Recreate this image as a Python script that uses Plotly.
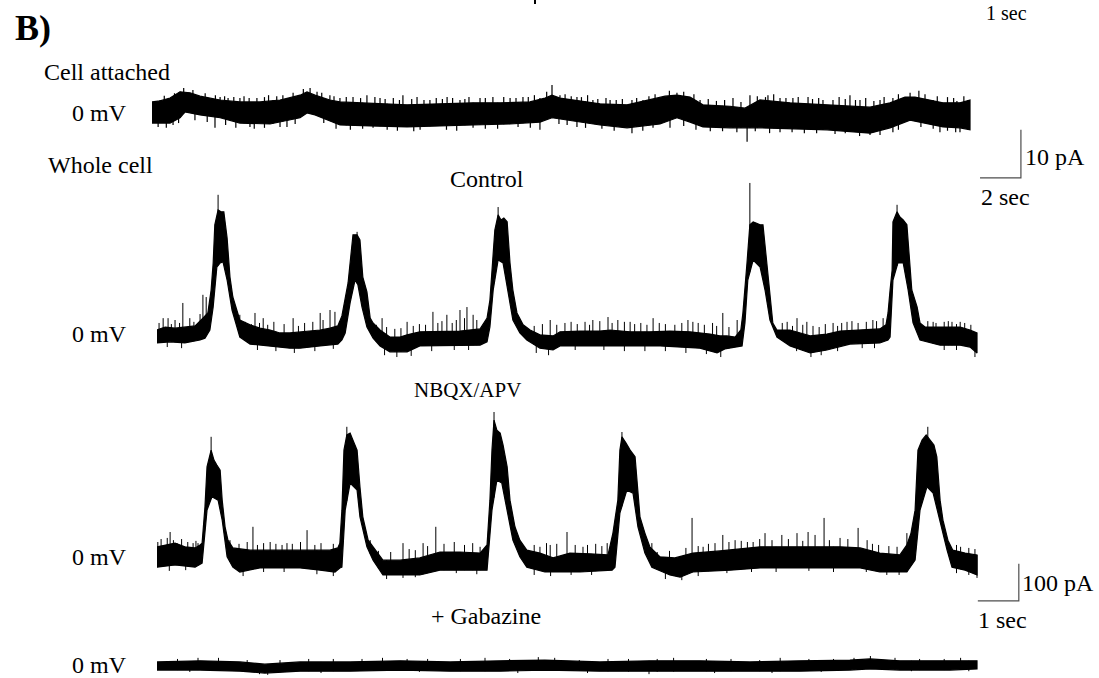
import numpy as np
import plotly.graph_objects as go

# ---------------- DATA (seconds, pA) ----------------
# Cell attached (0 mV) – envelope of the noisy trace
ca_up_t = [0.00, 0.39, 0.88, 1.37, 1.86, 2.35, 3.33, 4.30, 5.28, 6.26, 7.24, 7.58, 7.97, 8.70, 9.19, 10.66, 12.47,
           14.08, 15.70, 17.02, 18.48, 19.22, 19.56, 19.95, 21.42, 21.91, 23.23, 24.35, 25.09, 25.67, 26.31, 26.94,
           28.26, 29.00, 29.73, 31.20, 33.01, 34.13, 35.11, 36.09, 36.82, 37.31, 38.04, 38.68, 39.51, 40.00]
ca_up = [2.1, 2.3, 2.9, 4.2, 4.0, 3.3, 2.5, 2.1, 2.1, 2.5, 3.5, 4.2, 3.5, 2.5, 2.1, 1.9, 1.5,
         1.7, 1.9, 1.9, 2.1, 2.9, 3.5, 2.9, 2.1, 1.7, 1.5, 2.5, 3.3, 3.5, 3.1, 1.5,
         1.2, 0.8, 2.5, 1.9, 1.5, 1.2, 1.0, 1.9, 3.1, 3.1, 2.5, 1.9, 1.9, 2.5]
ca_lo_t = [0.00, 0.88, 1.37, 1.61, 2.35, 3.33, 4.30, 5.77, 7.24, 7.58, 7.97, 9.19, 10.66, 12.47, 14.08, 15.70,
           17.51, 18.97, 19.56, 20.44, 21.91, 23.23, 24.84, 25.67, 26.31, 26.94, 28.26, 29.73, 31.20, 33.01,
           35.11, 36.09, 37.07, 38.04, 38.68, 39.51, 40.00]
ca_lo = [-2.3, -2.3, -1.2, 0.0, -0.6, -1.2, -2.3, -2.5, -1.2, -0.2, -0.6, -2.7, -2.9, -3.1, -2.9, -2.7,
         -2.5, -2.1, -1.2, -1.7, -2.7, -3.3, -2.5, -1.2, -2.1, -3.1, -3.3, -3.3, -3.5, -3.7,
         -4.4, -3.3, -1.7, -2.5, -3.1, -3.3, -3.7]
ca_spk_up_t = [0.39, 0.6, 0.98, 1.1, 1.37, 1.55, 1.71, 2.0, 2.25, 2.6, 2.93, 3.1, 3.33, 3.55, 3.72, 4.0, 4.30,
               4.5, 4.75, 5.13, 5.5, 5.7, 5.92, 6.1, 6.4, 6.65, 6.9, 7.24, 7.4, 7.73, 8.07, 8.3, 8.70, 8.9,
               9.19, 9.5, 9.83, 10.2, 10.51, 10.9, 11.15, 11.4, 11.8, 12.1, 12.27, 12.7, 12.96, 13.3, 13.59,
               13.9, 14.2, 14.43, 14.7, 15.06, 15.3, 15.5, 16.04, 16.3, 16.67, 17.2, 17.51, 17.8, 18.14, 18.4,
               18.7, 18.97, 19.3, 19.56, 19.95, 20.2, 20.5, 20.78, 21.0, 21.3, 21.56, 21.8, 22.2, 22.40, 22.7,
               23.0, 23.47, 23.7, 24.01, 24.3, 24.6, 24.84, 25.3, 25.67, 26.0, 26.5, 26.80, 27.2, 27.6, 28.0,
               28.41, 28.8, 29.24, 29.6, 30.0, 30.12, 30.4, 30.71, 31.0, 31.34, 31.6, 32.08, 32.3, 32.6, 32.81,
               33.3, 33.6, 33.9, 34.13, 34.4, 34.62, 34.9, 35.3, 35.60, 35.8, 36.23, 36.5, 37.07, 37.5, 37.8,
               38.19, 38.4, 38.9, 39.2, 39.36, 39.7, 39.95]
ca_spk_up = [2.5, 3.4, 2.9, 3.9, 4.2, 5.0, 4.0, 4.6, 3.1, 3.9, 2.9, 3.5, 3.1, 3.3, 2.9, 3.1, 2.9,
             3.3, 2.9, 2.9, 3.1, 3.5, 2.5, 3.3, 3.5, 2.9, 4.0, 3.5, 4.8, 5.0, 4.2, 4.0, 3.5, 3.3,
             2.9, 3.1, 3.1, 2.9, 3.5, 3.1, 2.9, 2.7, 2.9, 2.5, 3.5, 2.7, 3.1, 2.5, 2.5,
             2.9, 2.7, 3.1, 2.9, 2.5, 2.7, 3.1, 2.9, 2.9, 3.1, 3.1, 2.9, 2.9, 3.1, 3.1,
             3.5, 2.9, 4.2, 5.6, 3.5, 3.7, 3.3, 3.1, 3.1, 3.5, 2.5, 2.7, 2.9, 2.5, 2.5,
             2.7, 2.5, 2.9, 2.5, 3.3, 3.7, 2.5, 4.4, 4.0, 4.2, 3.7, 2.5, 2.7, 2.3, 2.5,
             2.9, 2.1, 3.5, 3.3, 3.1, 3.5, 3.7, 2.9, 2.9, 2.9, 3.1, 3.1, 2.7, 2.9, 2.5,
             2.5, 3.1, 2.7, 3.5, 2.5, 2.5, 2.9, 2.3, 2.5, 3.1, 2.9, 3.7, 4.0, 4.4, 3.7,
             2.5, 3.3, 3.1, 2.9, 2.3, 3.3, 2.5]
ca_spk_dn_t = [0.3, 0.7, 1.03, 1.3, 2.1, 2.7, 3.08, 3.6, 4.1, 4.79, 5.0, 5.5, 6.26, 6.6, 7.0, 8.4, 9.0, 9.7,
               10.3, 10.81, 11.5, 12.0, 12.8, 13.11, 14.4, 14.9, 15.70, 16.3, 16.9, 17.9, 18.5, 18.97, 19.9,
               20.3, 20.78, 21.2, 22.0, 22.6, 23.47, 24.0, 24.5, 25.33, 26.0, 26.6, 27.3, 27.9, 28.6, 29.10,
               29.5, 30.2, 30.71, 31.3, 31.9, 32.5, 33.4, 33.9, 34.6, 35.11, 35.6, 36.23, 36.5, 37.6, 38.2,
               38.53, 38.9, 39.3, 39.51, 39.90]
ca_spk_dn = [-3.1, -3.3, -2.7, -2.3, -1.7, -2.1, -3.3, -2.7, -3.3, -3.1, -3.5, -3.3, -3.1, -3.1, -2.5, -2.3,
             -3.5, -3.7, -3.5, -3.3, -3.7, -3.9, -4.0, -3.7, -3.7, -3.9, -3.3, -3.5, -3.5, -3.1, -3.3, -3.7,
             -2.5, -2.7, -3.1, -3.3, -3.5, -3.9, -4.4, -3.9, -3.3, -3.3, -2.9, -3.7, -4.0, -4.0, -4.2, -6.2,
             -4.0, -4.4, -4.2, -4.2, -4.4, -4.4, -4.6, -4.4, -5.0, -4.8, -4.8, -4.2, -3.7, -3.1, -3.5,
             -4.2, -3.9, -4.2, -4.2, -3.7]

# Whole cell – Control
ctl_up_t = [0.00, 0.20, 0.44, 0.68, 0.93, 1.12, 1.24, 1.32, 1.37, 1.41, 1.49, 1.56, 1.63, 1.71, 1.78, 1.85, 1.95,
            2.02, 2.27, 2.51, 2.76, 3.00, 3.24, 3.49, 3.73, 3.98, 4.22, 4.41, 4.51, 4.59, 4.66, 4.73, 4.78, 4.88,
            4.95, 5.02, 5.12, 5.20, 5.27, 5.44, 5.68, 5.93, 6.10, 6.41, 6.90, 7.39, 7.88, 8.05, 8.12, 8.17, 8.24,
            8.32, 8.39, 8.46, 8.54, 8.61, 8.68, 8.78, 8.93, 9.10, 9.34, 9.66, 9.83, 10.32, 10.80, 11.05, 11.54,
            12.02, 12.51, 13.00, 13.49, 13.73, 13.90, 14.10, 14.24, 14.29, 14.34, 14.39, 14.46, 14.54, 14.61,
            14.71, 14.78, 14.88, 14.95, 15.02, 15.12, 15.44, 15.93, 16.34, 16.66, 17.15, 17.63, 17.78, 17.83,
            17.88, 17.93, 17.95, 18.05, 18.12, 18.20, 18.29, 18.34, 18.41, 18.54, 18.61, 18.73, 19.10, 19.59,
            19.83, 20.00]
ctl_up = [27, 35, 32, 35, 38, 59, 73, 135, 208, 311, 351, 346, 346, 275, 170, 116, 76,
          54, 41, 32, 27, 19, 19, 22, 24, 27, 32, 38, 65, 108, 154, 230, 284, 284,
          270, 170, 130, 59, 46, 27, 8, 8, 14, 22, 24, 24, 30, 59, 108, 181, 297,
          338, 324, 329, 319, 208, 135, 73, 41, 27, 14, 11, 22, 24, 24, 27, 22,
          22, 24, 22, 16, 11, 11, 8, 27, 73, 135, 208, 311, 319, 316,
          311, 311, 208, 135, 46, 27, 27, 11, 16, 24, 27, 30, 41, 73,
          135, 189, 319, 346, 332, 324, 311, 243, 135, 89, 46, 35, 35, 35,
          27, 19]
ctl_lo_t = [0.00, 0.32, 0.68, 1.05, 1.17, 1.29, 1.37, 1.46, 1.54, 1.61, 1.71, 1.83, 1.95, 2.02, 2.27, 2.76, 3.24,
            3.49, 3.98, 4.41, 4.51, 4.59, 4.71, 4.83, 4.90, 5.00, 5.12, 5.27, 5.44, 5.68, 6.10, 6.41, 7.15, 7.88,
            8.05, 8.12, 8.20, 8.32, 8.44, 8.56, 8.68, 8.85, 9.02, 9.34, 9.66, 9.83, 10.56, 11.29, 12.27, 13.24,
            13.66, 13.85, 14.27, 14.34, 14.41, 14.54, 14.71, 14.83, 14.95, 15.12, 15.44, 15.93, 16.34, 16.90,
            17.63, 17.83, 17.88, 17.95, 18.07, 18.20, 18.32, 18.44, 18.61, 19.10, 19.59, 19.83, 20.00]
ctl_lo = [-8, -5, -8, 0, 5, 27, 89, 197, 208, 211, 162, 81, 35, 8, -11, -16, -22,
          -22, -16, -11, 0, 19, 100, 162, 149, 89, 35, 5, -16, -32, -32, -16, -14, -14,
          -5, 35, 135, 216, 208, 135, 54, 19, 0, -22, -27, -16, -14, -16, -16, -22,
          -35, -24, -16, 46, 162, 216, 197, 135, 54, 8, -16, -35, -27, -11,
          -8, 0, 8, 162, 208, 208, 135, 46, 0, -14, -14, -19, -35]
ctl_spk_t = [0.05, 0.15, 0.27, 0.35, 0.44, 0.55, 0.63, 0.80, 0.90, 1.05, 1.12, 1.20, 2.02, 2.15, 2.30, 2.39,
             2.50, 2.59, 2.70, 2.85, 3.10, 3.32, 3.45, 3.60, 3.80, 3.98, 4.05, 4.22, 4.34, 4.45, 5.35, 5.49,
             5.60, 5.80, 5.95, 6.10, 6.25, 6.40, 6.55, 6.73, 6.85, 6.95, 7.07, 7.20, 7.30, 7.39, 7.50, 7.56,
             7.71, 7.80, 9.20, 9.40, 9.59, 9.75, 9.95, 10.10, 10.25, 10.44, 10.55, 10.63, 10.80, 11.00, 11.10,
             11.24, 11.40, 11.54, 11.65, 11.80, 11.95, 12.10, 12.25, 12.40, 12.63, 12.80, 12.95, 13.07, 13.20,
             13.35, 13.55, 13.65, 13.80, 13.95, 14.15, 15.25, 15.37, 15.50, 15.61, 15.75, 15.85, 16.00, 16.15,
             16.30, 16.49, 16.60, 16.70, 16.83, 16.95, 17.10, 17.30, 17.46, 17.55, 17.71, 18.80, 18.93, 19.00,
             19.20, 19.30, 19.39, 19.50, 19.59, 19.70, 19.85,
             1.49, 4.88, 8.32, 14.46, 18.05]
ctl_spk = [46, 59, 59, 43, 54, 46, 100, 59, 49, 70, 122, 116, 68, 49, 43, 73,
           46, 59, 41, 49, 43, 59, 38, 46, 49, 73, 54, 81, 76, 51, 41, 59,
           35, 30, 32, 49, 38, 43, 41, 76, 46, 51, 68, 46, 54, 81, 59, 89,
           68, 54, 38, 43, 54, 41, 46, 49, 43, 49, 41, 54, 51, 62, 46,
           54, 49, 49, 43, 46, 41, 59, 46, 43, 41, 46, 54, 49, 46,
           41, 46, 38, 73, 35, 54, 46, 49, 38, 59, 41, 49, 38, 35,
           43, 46, 38, 46, 49, 51, 46, 49, 54, 51, 59, 51, 49, 46,
           49, 51, 49, 43, 49, 46, 41,
           392, 292, 359, 424, 365]
ctl_dn_t = [0.25, 0.60, 2.45, 2.90, 3.35, 3.85, 4.30, 5.55, 5.85, 6.20, 6.70, 7.25, 7.60, 9.25, 9.55, 10.20,
            10.90, 11.40, 11.90, 12.40, 12.90, 13.40, 13.75, 15.60, 15.95, 16.20, 16.60, 17.20, 17.50, 19.20,
            19.50, 19.95]
ctl_dn = [-19, -22, -27, -30, -35, -30, -24, -41, -46, -43, -30, -27, -27, -35, -41, -27,
          -27, -30, -30, -30, -35, -38, -46, -30, -46, -41, -30, -22, -22, -27,
          -27, -46]

# Whole cell – NBQX/APV
nbq_up_t = [0.00, 0.20, 0.44, 0.68, 0.93, 1.05, 1.10, 1.17, 1.22, 1.32, 1.39, 1.46, 1.54, 1.59, 1.66, 1.73, 1.85,
            2.27, 2.76, 3.24, 3.73, 4.22, 4.41, 4.46, 4.51, 4.56, 4.63, 4.71, 4.78, 4.88, 4.95, 5.02, 5.15, 5.32,
            5.51, 5.93, 6.41, 6.90, 7.39, 7.88, 8.05, 8.12, 8.17, 8.22, 8.29, 8.37, 8.44, 8.54, 8.61, 8.73, 8.85,
            9.02, 9.34, 9.66, 10.07, 10.56, 11.00, 11.12, 11.24, 11.29, 11.34, 11.44, 11.54, 11.66, 11.71, 11.78,
            11.90, 12.02, 12.27, 12.63, 13.07, 13.73, 14.71, 15.68, 16.66, 17.15, 17.63, 18.12, 18.29, 18.39,
            18.49, 18.56, 18.66, 18.76, 18.85, 18.95, 19.02, 19.10, 19.17, 19.29, 19.41, 19.71, 20.00]
nbq_up = [41, 46, 51, 41, 38, 46, 51, 149, 257, 302, 275, 262, 248, 167, 95, 59, 38,
          32, 32, 30, 32, 32, 38, 51, 140, 302, 343, 348, 329, 302, 203, 122, 59, 32,
          5, 5, 11, 27, 27, 24, 46, 167, 302, 383, 356, 348, 316, 257, 167, 95, 59,
          32, 24, 11, 24, 22, 19, 78, 167, 302, 338, 321, 302, 284, 213, 122,
          78, 41, 14, 11, 24, 30, 41, 41, 41, 38, 24, 19, 46, 78,
          140, 302, 329, 343, 329, 316, 284, 167, 113, 59, 32, 24, 19]
nbq_lo_t = [0.00, 0.44, 0.93, 1.10, 1.22, 1.34, 1.49, 1.59, 1.71, 1.85, 2.02, 2.51, 3.49, 3.98, 4.34, 4.46, 4.51,
            4.59, 4.71, 4.88, 4.95, 5.12, 5.27, 5.51, 6.41, 6.90, 8.05, 8.07, 8.17, 8.29, 8.41, 8.54, 8.68, 8.85,
            9.02, 9.46, 9.83, 10.32, 11.10, 11.17, 11.29, 11.46, 11.61, 11.73, 11.90, 12.07, 12.51, 12.76, 13.07,
            13.98, 14.71, 15.68, 17.15, 17.63, 18.29, 18.49, 18.61, 18.78, 18.93, 19.10, 19.27, 19.39, 19.71, 20.00]
nbq_lo = [-14, -8, -14, -3, 140, 176, 167, 113, 14, -14, -27, -16, -16, -22, -27, -16, -14,
          140, 213, 194, 122, 41, 5, -35, -35, -22, -22, 5, 140, 221, 213, 140, 59, 14,
          -14, -27, -27, -27, -22, -14, 132, 194, 186, 95, 24, -14, -35, -41, -27,
          -22, -16, -16, -16, -27, -27, 5, 140, 203, 186, 105, 32, -14, -22, -35]
nbq_spk_t = [0.02, 0.10, 0.25, 0.32, 0.40, 0.49, 0.60, 0.75, 0.88, 0.95, 1.00, 1.78, 2.00, 2.20, 2.34, 2.45,
             2.60, 2.76, 2.90, 3.05, 3.17, 3.30, 3.50, 3.66, 3.85, 4.00, 4.30, 5.20, 5.40, 5.70, 6.00, 6.15,
             6.30, 6.49, 6.60, 6.80, 7.00, 7.25, 7.50, 7.70, 7.88, 9.20, 9.34, 9.50, 9.59, 9.75, 10.00, 10.20,
             10.39, 10.50, 10.70, 10.85, 10.98, 12.07, 12.20, 12.50, 12.90, 13.05, 13.20, 13.32, 13.45, 13.61,
             13.80, 13.95, 14.10, 14.25, 14.40, 14.54, 14.70, 14.83, 15.00, 15.24, 15.40, 15.61, 15.75, 15.88,
             16.05, 16.27, 16.40, 16.66, 16.85, 17.10, 17.32, 17.45, 17.60, 17.85, 18.05, 18.29, 19.50, 19.60,
             19.80, 19.95,
             1.32, 4.63, 8.22, 11.34, 18.80]
nbq_spk = [54, 62, 65, 81, 59, 51, 62, 54, 51, 57, 51, 59, 49, 54, 95, 46,
           51, 54, 49, 46, 51, 49, 54, 86, 46, 51, 49, 59, 30, 27, 51, 35,
           32, 51, 43, 95, 49, 54, 46, 51, 41, 46, 41, 51, 46, 49, 81, 46,
           41, 46, 49, 43, 51, 51, 27, 30, 38, 119, 43, 41, 49, 51,
           73, 54, 59, 57, 54, 54, 62, 78, 59, 73, 62, 78, 57, 81,
           73, 119, 59, 65, 62, 92, 59, 49, 46, 43, 41, 78, 46, 41,
           38, 35,
           338, 365, 405, 351, 365]
nbq_dn_t = [0.30, 0.70, 2.10, 2.60, 3.10, 3.90, 4.30, 5.60, 6.00, 6.30, 7.30, 7.80, 9.20, 9.60, 10.10, 10.60,
            12.40, 12.80, 13.20, 13.90, 14.50, 15.10, 15.90, 16.50, 17.30, 17.80, 18.10, 19.50, 19.80, 20.00]
nbq_dn = [-24, -22, -38, -27, -27, -33, -38, -46, -43, -41, -30, -33, -35, -38, -35, -35,
          -46, -49, -38, -30, -27, -27, -24, -27, -27, -35, -35, -30, -35, -43]

# Whole cell – + Gabazine
gab_t = [0.00, 1.05, 2.02, 2.63, 3.49, 4.71, 5.93, 7.15, 8.37, 9.46, 10.80, 12.02, 13.24, 14.46, 15.68,
         16.90, 17.39, 18.12, 19.34, 20.00]
gab_up = [11, 14, 11, 5, 11, 11, 14, 11, 14, 16, 11, 14, 14, 11, 14, 16, 19, 14, 14, 14]
gab_lo = [-11, -11, -14, -19, -14, -14, -11, -14, -14, -11, -14, -16, -14, -14, -14, -11, -8, -11, -11, -8]
gab_spk_t = [0.5, 1.0, 1.5, 2.2, 3.0, 3.7, 4.3, 5.0, 5.5, 6.1, 6.6, 7.4, 8.0, 8.6, 9.3, 9.7, 10.3, 11.0, 11.5,
             12.2, 12.6, 13.4, 14.0, 14.7, 15.2, 15.9, 16.5, 17.0, 17.4, 18.0, 18.6, 19.2, 19.6]
gab_spk = [19, 22, 22, 16, 16, 19, 19, 19, 22, 19, 19, 19, 22, 19, 24, 22, 16, 19, 19,
           19, 22, 19, 19, 16, 22, 19, 19, 22, 27, 22, 19, 19, 22]
gab_dn_t = [0.8, 2.5, 2.7, 4.0, 6.4, 8.8, 10.5, 12.0, 13.6, 15.0, 16.2, 18.4, 19.8]
gab_dn = [-16, -22, -24, -19, -16, -19, -19, -22, -19, -19, -16, -14, -14]

# Scale bars (time s, current pA)
ca_bar = (2, 10)
wc_bar = (1, 100)

# ---------------- FIGURE ----------------
W, H = 1099, 678
def fx(px):
    return px / W
def fy(py):
    return 1 - py / H

fig = go.Figure()

def band(t_up, up, t_lo, lo, xa, ya):
    xs = list(t_up) + list(t_lo[::-1]) + [t_up[0]]
    ys = list(up) + list(lo[::-1]) + [up[0]]
    fig.add_trace(go.Scatter(x=xs, y=ys, mode="lines", fill="toself", fillcolor="black",
                             line=dict(color="black", width=1.2), xaxis=xa, yaxis=ya,
                             hoverinfo="skip"))

def spikes(ts, vals, base_t, base_v, xa, ya, width=1.0):
    xs, ys = [], []
    for t, v in zip(ts, vals):
        b = float(np.interp(t, base_t, base_v))
        xs += [t, t, None]
        ys += [b, v, None]
    fig.add_trace(go.Scatter(x=xs, y=ys, mode="lines", line=dict(color="black", width=width),
                             xaxis=xa, yaxis=ya, hoverinfo="skip"))

# cell attached
band(ca_up_t, ca_up, ca_lo_t, ca_lo, "x", "y")
spikes(ca_spk_up_t, ca_spk_up, ca_lo_t, ca_lo, "x", "y", 1.2)
spikes(ca_spk_dn_t, ca_spk_dn, ca_up_t, ca_up, "x", "y", 1.2)
# control
band(ctl_up_t, ctl_up, ctl_lo_t, ctl_lo, "x2", "y2")
spikes(ctl_spk_t, ctl_spk, ctl_lo_t, ctl_lo, "x2", "y2")
spikes(ctl_dn_t, ctl_dn, ctl_up_t, ctl_up, "x2", "y2")
# NBQX
band(nbq_up_t, nbq_up, nbq_lo_t, nbq_lo, "x3", "y3")
spikes(nbq_spk_t, nbq_spk, nbq_lo_t, nbq_lo, "x3", "y3")
spikes(nbq_dn_t, nbq_dn, nbq_up_t, nbq_up, "x3", "y3")
# Gabazine
band(gab_t, gab_up, gab_t, gab_lo, "x4", "y4")
spikes(gab_spk_t, gab_spk, gab_t, gab_lo, "x4", "y4", 1.0)
spikes(gab_dn_t, gab_dn, gab_t, gab_up, "x4", "y4", 1.0)

# scale bars
bar_col = "#4d4d4d"
t0, a0 = 40.49, -13.7
fig.add_trace(go.Scatter(x=[t0, t0 + ca_bar[0], t0 + ca_bar[0]], y=[a0, a0, a0 + ca_bar[1]], mode="lines",
                         line=dict(color=bar_col, width=1.2), xaxis="x", yaxis="y", hoverinfo="skip"))
t1, a1 = 20.02, -105.0
fig.add_trace(go.Scatter(x=[t1, t1 + wc_bar[0], t1 + wc_bar[0]], y=[a1, a1, a1 + wc_bar[1]], mode="lines",
                         line=dict(color=bar_col, width=1.2), xaxis="x3", yaxis="y3", hoverinfo="skip"))

ax_off = dict(visible=False, showgrid=False, zeroline=False, fixedrange=True)
wc_x_dom = [fx(157), 1.0]
wc_x_rng = [0, (W - 157) / 41.0]
fig.update_layout(
    width=W, height=H, margin=dict(l=0, r=0, t=0, b=0),
    paper_bgcolor="white", plot_bgcolor="rgba(0,0,0,0)", showlegend=False,
    xaxis=dict(domain=[fx(152), 1.0], range=[0, (W - 152) / 20.45], anchor="y", **ax_off),
    yaxis=dict(domain=[fy(190), fy(80)], range=[(112 - 190) * 0.208, (112 - 80) * 0.208], anchor="x", **ax_off),
    xaxis2=dict(domain=wc_x_dom, range=wc_x_rng, anchor="y2", **ax_off),
    yaxis2=dict(domain=[fy(365), fy(175)], range=[(340 - 365) * 2.7, (340 - 175) * 2.7], anchor="x2", **ax_off),
    xaxis3=dict(domain=wc_x_dom, range=wc_x_rng, anchor="y3", **ax_off),
    yaxis3=dict(domain=[fy(615), fy(400)], range=[(562 - 615) * 2.7, (562 - 400) * 2.7], anchor="x3", **ax_off),
    xaxis4=dict(domain=wc_x_dom, range=wc_x_rng, anchor="y4", **ax_off),
    yaxis4=dict(domain=[fy(678), fy(640)], range=[(666 - 678) * 2.7, (666 - 640) * 2.7], anchor="x4", **ax_off),
)

FONT = "Liberation Serif, Times New Roman, serif"
def label(text, px, py, anchor="left", size=24, bold=False, yanchor="middle"):
    if bold:
        text = "<b>" + text + "</b>"
    fig.add_annotation(text=text, x=fx(px), y=fy(py), xref="paper", yref="paper",
                       xanchor=anchor, yanchor=yanchor, showarrow=False,
                       font=dict(family=FONT, size=size, color="black"))

label("B)", 13, 28, size=36, bold=True)
label("Cell attached", 42, 72)
label("Whole cell", 46, 165)
for yy in (113, 334, 557, 665):
    label("0 mV", 129, yy, anchor="right")
label("Control", 487, 179, anchor="center")
label("NBQX/APV", 467, 390, anchor="center", size=21)
label("+ Gabazine", 486, 616, anchor="center")
label("10 pA", 1023, 157)
label("2 sec", 979, 197)
label("100 pA", 1020, 583)
label("1 sec", 976, 620)
label("1 sec", 984, 0, yanchor="top", size=20)

# small tick from the panel above
fig.add_shape(type="line", xref="paper", yref="paper", x0=fx(535), x1=fx(535), y0=fy(4), y1=1.0,
              line=dict(color="black", width=2))

fig.write_html("out.html")
